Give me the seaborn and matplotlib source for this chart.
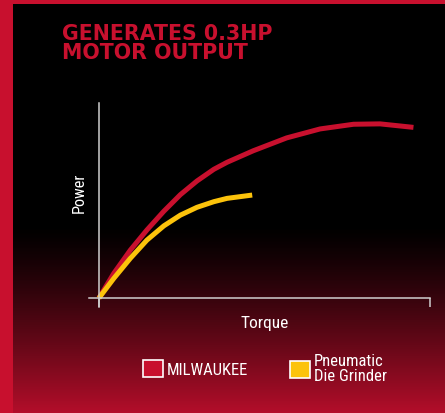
import numpy as np
import pandas as pd
import matplotlib
matplotlib.use("Agg")
import matplotlib.pyplot as plt
from matplotlib import font_manager as fm
from matplotlib.patches import Patch, Rectangle
from matplotlib.colors import LinearSegmentedColormap
import seaborn as sns

# ---- data (arbitrary units 0-100) ----
milwaukee_torque = [0, 4.5, 9.5, 14.5, 19.6, 24.6, 29.6, 34.7, 38.7, 46.6, 56.7, 66.8, 76.9, 84.9, 95.0]
milwaukee_power = [0, 12.7, 24.6, 34.9, 44.5, 53.0, 60.0, 66.0, 69.6, 75.5, 82.1, 86.7, 89.1, 89.3, 87.5]
pneumatic_torque = [0, 4.5, 9.5, 14.5, 19.6, 24.6, 29.6, 34.7, 38.7, 46.3]
pneumatic_power = [0, 10.1, 20.4, 29.7, 37.0, 42.5, 46.5, 49.4, 51.1, 52.8]
series_names = ["MILWAUKEE", "Pneumatic\nDie Grinder"]
title_text = "GENERATES 0.3HP\nMOTOR OUTPUT"
x_label = "Torque"
y_label = "Power"

RED = "#c8102e"
YELLOW = "#fcc30b"
AXIS = "#cfcfcf"

df = pd.concat([
    pd.DataFrame({"Torque": milwaukee_torque, "Power": milwaukee_power, "series": series_names[0]}),
    pd.DataFrame({"Torque": pneumatic_torque, "Power": pneumatic_power, "series": series_names[1]}),
], ignore_index=True)

sns.set_theme(style="white")
plt.rcParams["font.family"] = ["Liberation Sans", "DejaVu Sans"]


def find_narrow(size, bold=False):
    prefs = ["liberationsansnarrow", "robotocondensed", "opensanscondensed", "dejavusanscondensed"]
    cands = []
    for f in fm.fontManager.ttflist:
        base = f.fname.lower().replace("-", "").replace("_", "").split("/")[-1]
        for i, p in enumerate(prefs):
            if base.startswith(p):
                isbold = "bold" in base
                isital = "italic" in base or "oblique" in base
                if isital:
                    continue
                if any(k in base for k in ("light", "thin", "medium", "semi", "extra", "black")):
                    continue
                cands.append((i, 0 if isbold == bold else 1, f.fname))
    if cands:
        cands.sort()
        return fm.FontProperties(fname=cands[0][2], size=size)
    return fm.FontProperties(family=["Liberation Sans", "DejaVu Sans"], size=size, stretch="condensed")


W, H = 445, 413
fig = plt.figure(figsize=(W / 100, H / 100), dpi=100)
fig.patch.set_facecolor("black")

# background gradient
bg = fig.add_axes([0, 0, 1, 1], zorder=0)
bg.set_axis_off()
rows = np.linspace(0, 1, H)  # 0 = top
t = np.clip((rows * H - 225) / (H - 225), 0, 1) ** 1.25
cmap = LinearSegmentedColormap.from_list("g", ["#000000", "#b30e2a"])
bg.imshow(t[:, None] * np.ones((1, W)), cmap=cmap, vmin=0, vmax=1, aspect="auto",
          extent=[0, W, H, 0])
bg.set_xlim(0, W)
bg.set_ylim(H, 0)
bg.add_patch(Rectangle((0, 0), 13, H, color=RED, lw=0))
bg.add_patch(Rectangle((0, 0), W, 3.5, color=RED, lw=0))

# title
fig.text(62 / W, 1 - 24 / H, title_text, color=RED, fontsize=14.8, fontweight="bold",
         ha="left", va="top", linespacing=0.93, family=["DejaVu Sans"])

# chart axes
ax = fig.add_axes([89 / W, 1 - 307 / H, 341 / W, 204 / H], zorder=2)
ax.patch.set_alpha(0)
sns.lineplot(data=df, x="Torque", y="Power", hue="series", sort=False,
             palette=[RED, YELLOW], linewidth=3.6, ax=ax, legend=False)
for ln in ax.lines:
    ln.set_solid_capstyle("butt")
    ln.set_solid_joinstyle("round")
ax.set_xlim(-3, 100)
ax.set_ylim(-4.6, 100)
for s in ["top", "right"]:
    ax.spines[s].set_visible(False)
ax.spines["bottom"].set_position(("data", 0))
ax.spines["left"].set_position(("data", 0))
for s in ["bottom", "left"]:
    ax.spines[s].set_color(AXIS)
    ax.spines[s].set_linewidth(1.1)
ax.set_xticks([0, 100])
ax.set_xticklabels([])
ax.set_yticks([])
ax.tick_params(axis="x", direction="out", length=6.5, width=1.1, color=AXIS, bottom=True)
ax.set_xlabel("")
ax.set_ylabel("")

lab_fp = find_narrow(12.5)
fig.text(264.5 / W, 1 - 323.5 / H, x_label, color="white", ha="center", va="center",
         fontproperties=lab_fp)
fig.text(79.5 / W, 1 - 192.5 / H, y_label, color="white", ha="center", va="center",
         rotation=90, fontproperties=find_narrow(11.8))

# legend (one entry per box for exact placement)
leg_size = 12
leg_fp = find_narrow(leg_size)
fs_px = leg_size * 100 / 72
entries = [(series_names[0], RED, 143, 369), (series_names[1], YELLOW, 290, 369)]
for name, col, x0, yc in entries:
    h = Patch(facecolor=col, edgecolor="white", linewidth=1.2, label=name)
    leg = fig.legend(handles=[h], loc="center left", bbox_to_anchor=(x0 / W, 1 - yc / H),
                     frameon=False, prop=leg_fp, handlelength=19.5 / fs_px,
                     handleheight=19.5 / fs_px, handletextpad=4.5 / fs_px,
                     borderpad=0, borderaxespad=0, labelcolor="white")
    for tx in leg.get_texts():
        tx.set_linespacing(1.05)
    leg.set_zorder(3)

fig.savefig("out.png", dpi=100, facecolor=fig.get_facecolor())
